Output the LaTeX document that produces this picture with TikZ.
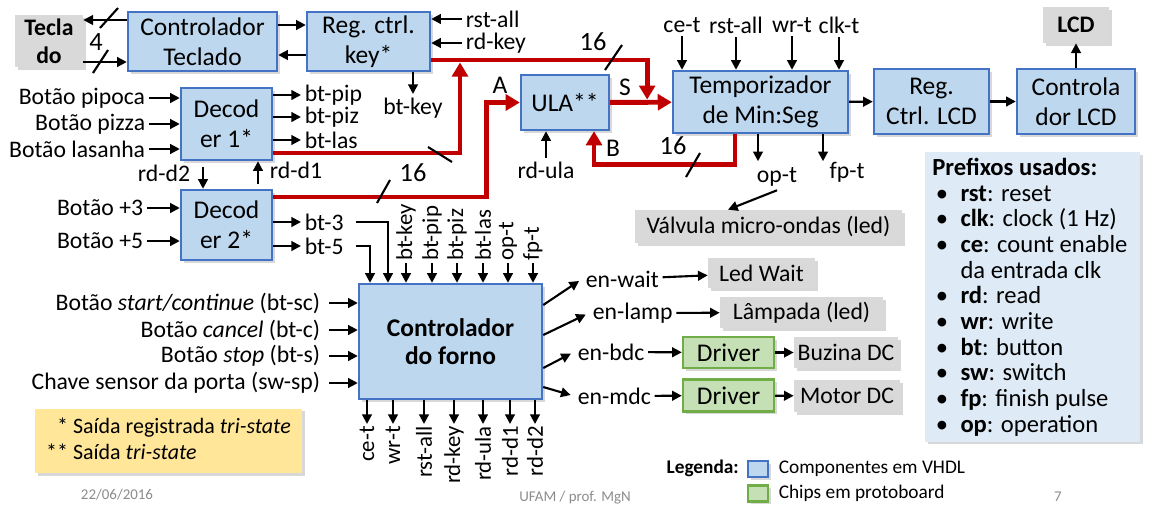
\documentclass[tikz,border=0pt]{standalone}
\usepackage{fontspec}
\setmainfont{Carlito}
\usetikzlibrary{positioning,arrows.meta,shadows,calc}

\definecolor{azulbox}{HTML}{BDD7EE}
\definecolor{azulborda}{HTML}{4472C4}
\definecolor{verdebox}{HTML}{C5E0B4}
\definecolor{verdeborda}{HTML}{70AD47}
\definecolor{cinzabox}{HTML}{D9D9D9}
\definecolor{vermelho}{HTML}{C00000}
\definecolor{amarelo}{HTML}{FFE699}
\definecolor{azulclaro}{HTML}{DEEBF7}
\definecolor{rodape}{HTML}{8C8C8C}

\newcommand{\fonteBloco}{\fontsize{14.5}{17}\selectfont}
\newcommand{\fonteRot}{\fontsize{13.5}{16}\selectfont}
\newcommand{\fonteVert}{\fontsize{13}{15}\selectfont}
\newcommand{\fonteLeg}{\fontsize{11}{14}\selectfont}
\newcommand{\fontePe}{\fontsize{8.5}{10}\selectfont}
\newcommand{\marcador}{\makebox[16pt][l]{\hspace{2pt}\textbullet}}

\tikzset{
	bloco/.style={draw=azulborda, fill=azulbox, line width=1.4pt, align=center, inner sep=0pt, font=\fonteBloco,
		drop shadow={shadow xshift=1.5pt, shadow yshift=-1.5pt, opacity=.3}},
	chip/.style={bloco, draw=verdeborda, fill=verdebox},
	externo/.style={fill=cinzabox, align=center, inner sep=0pt, font=\fonteRot,
		drop shadow={shadow xshift=1.5pt, shadow yshift=-1.5pt, opacity=.3}},
	rot/.style={font=\fonteRot, inner sep=2pt},
	vert/.style={font=\fonteVert, rotate=90, inner sep=1pt},
	seta/.style={line width=1.2pt, -{Triangle[length=5.5pt,width=5.5pt]}},
	barra/.style={line width=2.8pt, draw=vermelho, -{Triangle[length=8pt,width=9pt]}},
	corte/.style={line width=1.2pt},
}

\begin{document}
\begin{tikzpicture}[x=0.02cm, y=-0.02cm]
			\path[use as bounding box, fill=white] (0,0) rectangle (1151,514);
			% teclado
			\node[externo, font=\fonteRot\bfseries, minimum width=1.36cm, minimum height=1.04cm] (tecla) at (49,41) {Tecla\\do};
			\node[bloco, minimum width=2.98cm, minimum height=1.18cm] (ctrltec) at (202.5,41.5) {Controlador\\Teclado};
			\node[bloco, minimum width=2.46cm, minimum height=1.18cm] (regkey) at (368.5,41.5) {Reg. ctrl.\\key*};
			\draw[seta] (ctrltec.west |- 0,20) -- (tecla.east |- 0,20);
			\draw[seta] (tecla.east |- 0,62) -- (ctrltec.west |- 0,62);
			\draw[corte] (100,28) -- (118,8);
			\draw[corte] (93,73) -- (108,50);
			\node[font=\fontsize{15}{18}\selectfont] (nbits) at (96,42) {4};
			\draw[seta] (ctrltec.east |- 0,25) -- (regkey.west |- 0,25);
			\draw[seta] (regkey.west |- 0,55) -- (ctrltec.east |- 0,55);
			\node[rot, anchor=west, inner ysep=0pt] (rstkey) at (462,19) {rst-all};
			\node[rot, anchor=west, inner ysep=0pt] (rdkey) at (462,43) {rd-key};
			\draw[seta] (rstkey.west) -- (rstkey.west -| regkey.east);
			\draw[seta] (rdkey.west) -- (rdkey.west -| regkey.east);
			\node[rot] (btkey) at (413,108) {bt-key};
			\draw[seta] (regkey.south -| btkey.north) -- (btkey.north);

			% decodificador 1
			\node[bloco, minimum width=1.82cm, minimum height=1.44cm] (dec1) at (226.5,124) {Decod\\er 1*};
			\node[rot, anchor=east] (pipoca) at (149,98) {Botão pipoca};
			\node[rot, anchor=east] (pizza) at (149,124) {Botão pizza};
			\node[rot, anchor=east] (lasanha) at (149,149) {Botão lasanha};
			\draw[seta] (pipoca) -- (pipoca -| dec1.west);
			\draw[seta] (pizza) -- (pizza -| dec1.west);
			\draw[seta] (lasanha) -- (lasanha -| dec1.west);
			\node[rot, anchor=west] (btpip) at (301,95) {bt-pip};
			\node[rot, anchor=west] (btpiz) at (301,117) {bt-piz};
			\node[rot, anchor=west] (btlas) at (301,140) {bt-las};
			\draw[seta] (btpip -| dec1.east) -- (btpip);
			\draw[seta] (btpiz -| dec1.east) -- (btpiz);
			\draw[seta] (btlas -| dec1.east) -- (btlas);
			\node[rot, anchor=west] (rdd1) at (266,170) {rd-d1};
			\coordinate (rdd1p) at (258,184);
			\draw[seta] (rdd1p) -- (rdd1p |- dec1.south);

			% decodificador 2
			\node[bloco, minimum width=1.82cm, minimum height=1.40cm] (dec2) at (226.5,225) {Decod\\er 2*};
			\node[rot, anchor=east] (rdd2) at (194,173) {rd-d2};
			\coordinate (rdd2p) at (203,167);
			\draw[seta] (rdd2p) -- (rdd2p |- dec2.north);
			\node[rot, anchor=east] (mais3) at (147,208) {Botão +3};
			\node[rot, anchor=east] (mais5) at (147,241) {Botão +5};
			\draw[seta] (mais3) -- (mais3 -| dec2.west);
			\draw[seta] (mais5) -- (mais5 -| dec2.west);
			\node[rot, anchor=west] (bttres) at (301,222) {bt-3};
			\node[rot, anchor=west] (btcinco) at (301,246) {bt-5};
			\draw[seta] (bttres -| dec2.east) -- (bttres);
			\draw[seta] (btcinco -| dec2.east) -- (btcinco);

			% ULA e temporizador
			\node[bloco, minimum width=1.76cm, minimum height=1.10cm] (ula) at (565,102.5) {ULA**};
			\node[bloco, minimum width=3.50cm, minimum height=1.24cm] (temp) at (760.5,102) {Temporizador\\de Min:Seg};
			\node[rot] (rdula) at (546,170) {rd-ula};
			\draw[seta] (rdula) -- (rdula |- ula.south);
			\node[rot] (tce) at (682,25) {ce-t};
			\node[rot] (trst) at (736,25) {rst-all};
			\node[rot] (twr) at (792,25) {wr-t};
			\node[rot] (tclk) at (839,25) {clk-t};
			\draw[seta] (tce) -- (tce |- temp.north);
			\draw[seta] (trst) -- (trst |- temp.north);
			\draw[seta] (twr) -- (twr |- temp.north);
			\draw[seta] (tclk) -- (tclk |- temp.north);
			\draw[seta] (temp.south -| 758,0) -- ++(0,27);
			\draw[seta] (temp.south -| 823,0) -- ++(0,27);
			\node[rot] (opt) at (777,177) {op-t};
			\node[rot] (fpt) at (847,172) {fp-t};
			\node[externo, minimum width=5.34cm, minimum height=0.66cm] (valv) at (768.5,226.5) {Válvula micro-ondas (led)};
			\draw[seta] (opt.south) -- (valv.north -| 728,0);

			% LCD
			\node[bloco, minimum width=2.30cm, minimum height=1.30cm] (reglcd) at (931.5,101.5) {Reg.\\Ctrl. LCD};
			\node[bloco, minimum width=2.36cm, minimum height=1.30cm] (ctrllcd) at (1076,101.5) {Controla\\dor LCD};
			\node[externo, font=\fonteRot\bfseries, minimum width=1.32cm, minimum height=0.72cm] (lcd) at (1076,25) {LCD};
			\draw[seta] (temp) -- (reglcd);
			\draw[seta] (reglcd) -- (ctrllcd);
			\draw[seta] (ctrllcd) -- (lcd);

			% barramentos de 16 bits
			\coordinate (juncao) at (460,62.5);
			\draw[barra, shorten >=1.5pt] (regkey.east |- 0,60) -| ($(ula.east)!.6!(temp.west)$);
			\draw[barra] (dec1.east |- 0,153) -| (juncao);
			\draw[barra] (dec2.east |- 0,197) -| ($(ula.west)+(-33,0)$) -- (ula.west);
			\draw[barra] (ula) -- (temp);
			\draw[barra] (temp.south -| 735,0) -- ++(0,30) -| (ula.south -| 594,0);
			\draw[corte] (605,70) -- (622,45);
			\draw[corte] (428,147) -- (452,162);
			\draw[corte] (377,203) -- (390,180);
			\draw[corte] (686,177) -- (700,153);
			\node[font=\fontsize{15}{18}\selectfont] (n16a) at (593,42) {16};
			\node[font=\fontsize{15}{18}\selectfont] (n16b) at (413,173) {16};
			\node[font=\fontsize{15}{18}\selectfont] (n16c) at (673,146) {16};
			\node[font=\fontsize{14.5}{17}\selectfont] (ea) at (500,85) {A};
			\node[font=\fontsize{14.5}{17}\selectfont] (es) at (625,87) {S};
			\node[font=\fontsize{14.5}{17}\selectfont] (eb) at (613,148) {B};

			% controlador do forno
			\node[bloco, font=\fontsize{14.5}{16}\selectfont\bfseries, minimum width=3.66cm, minimum height=2.30cm] (forno) at (450.5,341.5) {Controlador\\do forno};
			\node[rot, anchor=east] (btsc) at (324,303) {Botão \textit{start/continue} (bt-sc)};
			\node[rot, anchor=east] (btc) at (324,330) {Botão \textit{cancel} (bt-c)};
			\node[rot, anchor=east] (bts) at (324,356) {Botão \textit{stop} (bt-s)};
			\node[rot, anchor=east] (swsp) at (324,383) {Chave sensor da porta (sw-sp)};
			\draw[seta, shorten <=3pt] (btsc) -- (btsc -| forno.west);
			\draw[seta, shorten <=3pt] (btc) -- (btc -| forno.west);
			\draw[seta, shorten <=3pt] (bts) -- (bts -| forno.west);
			\draw[seta, shorten <=3pt] (swsp) -- (swsp -| forno.west);
			\draw[seta] ([xshift=5pt]bttres.east) -| (forno.north -| 388,0);
			\draw[seta] ([xshift=5pt]btcinco.east) -| (forno.north -| 370,0);
			\node[vert, anchor=west] (ikey) at (406,263) {bt-key};
			\node[vert, anchor=west] (ipip) at (432,263) {bt-pip};
			\node[vert, anchor=west] (ipiz) at (457,263) {bt-piz};
			\node[vert, anchor=west] (ilas) at (483,263) {bt-las};
			\node[vert, anchor=west] (iop) at (508,263) {op-t};
			\node[vert, anchor=west] (ifp) at (533,263) {fp-t};
			\draw[seta] (ikey.west) -- (ikey.west |- forno.north);
			\draw[seta] (ipip.west) -- (ipip.west |- forno.north);
			\draw[seta] (ipiz.west) -- (ipiz.west |- forno.north);
			\draw[seta] (ilas.west) -- (ilas.west |- forno.north);
			\draw[seta] (iop.west) -- (iop.west |- forno.north);
			\draw[seta] (ifp.west) -- (ifp.west |- forno.north);
			\node[vert, anchor=east] (oce) at (367,424) {ce-t};
			\node[vert, anchor=east] (owr) at (393,424) {wr-t};
			\node[vert, anchor=east] (orst) at (424,424) {rst-all};
			\node[vert, anchor=east] (ordkey) at (454,424) {rd-key};
			\node[vert, anchor=east] (ordula) at (483,424) {rd-ula};
			\node[vert, anchor=east] (ord1) at (510,424) {rd-d1};
			\node[vert, anchor=east] (ord2) at (535,424) {rd-d2};
			\draw[seta] (oce.east |- forno.south) -- (oce.east);
			\draw[seta] (owr.east |- forno.south) -- (owr.east);
			\draw[seta] (orst.east |- forno.south) -- (orst.east);
			\draw[seta] (ordkey.east |- forno.south) -- (ordkey.east);
			\draw[seta] (ordula.east |- forno.south) -- (ordula.east);
			\draw[seta] (ord1.east |- forno.south) -- (ord1.east);
			\draw[seta] (ord2.east |- forno.south) -- (ord2.east);

			% saidas do forno
			\node[rot, anchor=west] (enwait) at (582,279) {en-wait};
			\node[rot, anchor=west] (enlamp) at (589,313) {en-lamp};
			\node[rot, anchor=west] (enbdc) at (574,352) {en-bdc};
			\node[rot, anchor=west] (enmdc) at (574,396) {en-mdc};
			\draw[seta, shorten >=2pt] (forno.east |- 0,305) -- (enwait.west);
			\draw[seta, shorten >=2pt] (forno.east |- 0,335) -- (enlamp.west);
			\draw[seta, shorten >=2pt] (forno.east |- 0,368) -- (enbdc.west);
			\draw[seta, shorten >=2pt] (forno.east |- 0,387) -- (enmdc.west);
			\node[externo, minimum width=2.14cm, minimum height=0.60cm] (ledwait) at (761.5,273) {Led Wait};
			\node[externo, minimum width=3.26cm, minimum height=0.62cm] (lamp) at (801.5,312.5) {Lâmpada (led)};
			\node[chip, minimum width=1.82cm, minimum height=0.62cm] (drv1) at (728.5,352.5) {Driver};
			\node[chip, minimum width=1.82cm, minimum height=0.64cm] (drv2) at (728.5,395.5) {Driver};
			\node[externo, minimum width=2.08cm, minimum height=0.62cm] (buzina) at (846,352.5) {Buzina DC};
			\node[externo, minimum width=2.12cm, minimum height=0.64cm] (motor) at (847,396) {Motor DC};
			\draw[seta] (enwait) -- (ledwait);
			\draw[seta] (enlamp) -- (lamp);
			\draw[seta] (enbdc) -- (drv1);
			\draw[seta] (drv1) -- (buzina);
			\draw[seta] (enmdc) -- (drv2);
			\draw[seta] (drv2) -- (motor);

			% prefixos e notas
			\node[fill=azulclaro, anchor=north west, minimum width=4.30cm, minimum height=5.76cm, inner xsep=4pt,
				text width=4.30cm-8pt, align=flush left, font=\fontsize{14}{14.6}\selectfont,
				drop shadow={shadow xshift=1.5pt, shadow yshift=-1.5pt, opacity=.3}] (prefixos) at (925,152)
				{\textbf{Prefixos usados:}\\
				\marcador\textbf{rst}: reset\\
				\marcador\textbf{clk}: clock (1 Hz)\\
				\marcador\textbf{ce}: count enable\\
				\hspace*{16pt}da entrada clk\\
				\marcador\textbf{rd}: read\\
				\marcador\textbf{wr}: write\\
				\marcador\textbf{bt}: button\\
				\marcador\textbf{sw}: switch\\
				\marcador\textbf{fp}: finish pulse\\
				\marcador\textbf{op}: operation};
			\node[fill=amarelo, minimum width=5.34cm, minimum height=1.24cm, font=\fontsize{12.5}{15}\selectfont,
				drop shadow={shadow xshift=1.5pt, shadow yshift=-1.5pt, opacity=.3}] (nota) at (168.5,441)
				{\begin{tabular}{@{}r@{ }l@{}}*&Saída registrada \textit{tri-state}\\{**}&Saída \textit{tri-state}\end{tabular}};

			% legenda
			\node[font=\fonteLeg\bfseries, anchor=east] (legenda) at (745,468) {Legenda:};
			\node[bloco, line width=1.2pt, minimum width=0.40cm, minimum height=0.32cm] (legazul) at (758,469) {};
			\node[chip, line width=1.2pt, minimum width=0.40cm, minimum height=0.32cm] (legverde) at (758,493.5) {};
			\node[font=\fonteLeg, right=2pt of legazul] (legazultxt) {Componentes em VHDL};
			\node[font=\fonteLeg, right=2pt of legverde] (legverdetxt) {Chips em protoboard};

			% rodape
			\node[font=\fontePe, text=rodape] (data) at (117,495) {22/06/2016};
			\node[font=\fontePe, text=rodape] (autor) at (575,498) {UFAM / prof. MgN};
			\node[font=\fontePe, text=rodape] (pagina) at (1058,497) {7};
\end{tikzpicture}
\end{document}
